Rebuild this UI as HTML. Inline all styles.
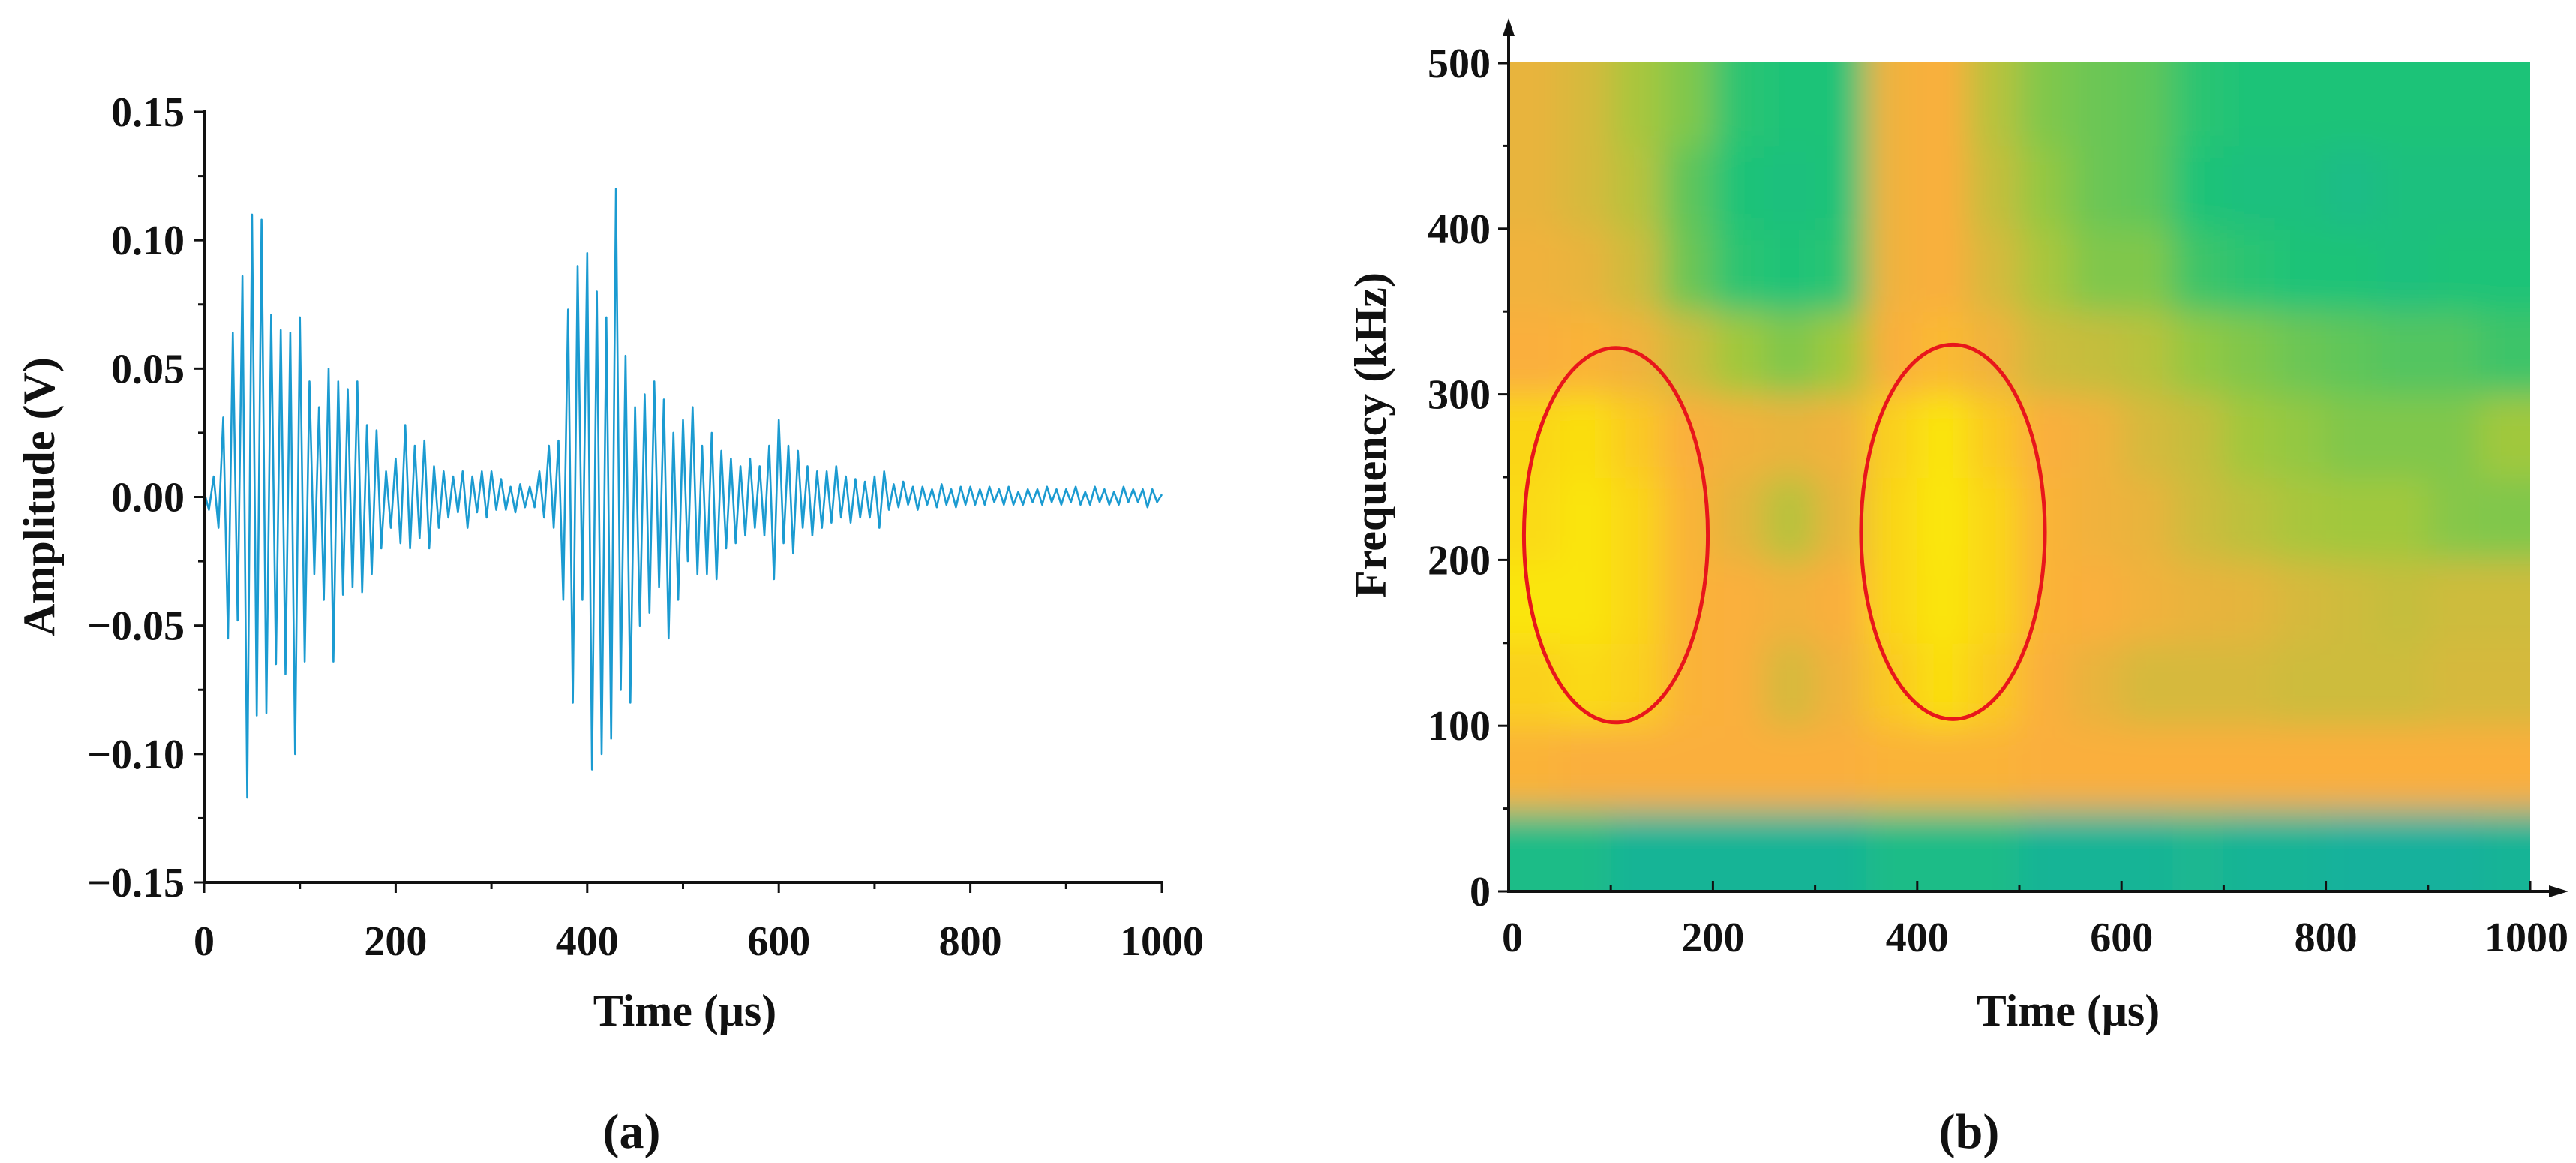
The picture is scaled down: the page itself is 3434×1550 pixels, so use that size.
<!DOCTYPE html>
<html><head><meta charset="utf-8"><style>
html,body{margin:0;padding:0;background:#fff;}
svg{display:block;}
text{font-family:"Liberation Serif",serif;font-weight:bold;fill:#111;}
</style></head><body>
<svg id="fig" width="3434" height="1550" viewBox="0 0 3434 1550" xmlns="http://www.w3.org/2000/svg">
<defs>
<filter id="blur" x="-5%" y="-5%" width="110%" height="110%"><feGaussianBlur stdDeviation="22"/></filter>
<clipPath id="hclip"><rect x="2011" y="82" width="1362" height="1106"/></clipPath>
</defs>
<g id="panelA"></g>
<g id="panelB"></g>
</svg>
<script>
// ---------- Panel (a) data ----------
const sigStep = 5; // microseconds between samples
const sigValues = [0.002,-0.005,0.008,-0.012,0.031,-0.055,0.064,-0.048,0.086,-0.117,0.11,-0.085,0.108,-0.084,0.071,-0.065,0.065,-0.069,0.064,-0.1,
0.07,-0.064,0.045,-0.03,0.035,-0.04,0.05,-0.064,0.045,-0.038,0.042,-0.035,0.045,-0.037,0.028,-0.03,0.026,-0.02,0.01,-0.012,
0.015,-0.018,0.028,-0.02,0.02,-0.016,0.022,-0.02,0.012,-0.012,0.01,-0.008,0.008,-0.006,0.01,-0.012,0.008,-0.006,0.01,-0.008,
0.01,-0.005,0.007,-0.005,0.004,-0.006,0.005,-0.004,0.004,-0.004,0.01,-0.008,0.02,-0.012,0.022,-0.04,0.073,-0.08,0.09,-0.04,
0.095,-0.106,0.08,-0.1,0.07,-0.094,0.12,-0.075,0.055,-0.08,0.035,-0.05,0.04,-0.045,0.045,-0.035,0.038,-0.055,0.025,-0.04,
0.03,-0.025,0.035,-0.03,0.02,-0.03,0.025,-0.032,0.018,-0.02,0.015,-0.018,0.012,-0.015,0.015,-0.012,0.012,-0.015,0.02,-0.032,
0.03,-0.018,0.02,-0.022,0.018,-0.012,0.012,-0.015,0.01,-0.012,0.01,-0.01,0.012,-0.008,0.008,-0.01,0.007,-0.008,0.006,-0.008,
0.008,-0.012,0.01,-0.005,0.005,-0.004,0.006,-0.003,0.004,-0.005,0.004,-0.003,0.003,-0.004,0.005,-0.003,0.003,-0.004,0.004,-0.003,
0.004,-0.003,0.003,-0.003,0.004,-0.002,0.003,-0.003,0.004,-0.003,0.002,-0.003,0.003,-0.002,0.003,-0.003,0.004,-0.002,0.003,-0.003,
0.003,-0.002,0.004,-0.003,0.002,-0.003,0.004,-0.002,0.003,-0.003,0.002,-0.003,0.004,-0.002,0.003,-0.002,0.003,-0.004,0.003,-0.002,0.001];
const aXTicks = [0,200,400,600,800,1000];
const aYTicks = [0.15,0.10,0.05,0.00,-0.05,-0.10,-0.15];
const aYLabels = ["0.15","0.10","0.05","0.00","\u22120.05","\u22120.10","\u22120.15"];

// ---------- Panel (b) data ----------
// rows: frequency bands 0-50,50-100,...,450-500 kHz ; columns: time 0-50,...,950-1000 us ; intensity 0..1
const freqBands = [25,75,125,175,225,275,325,375,425,475];
const timeBins = [25,75,125,175,225,275,325,375,425,475,525,575,625,675,725,775,825,875,925,975];
const intensity = [
[0.25,0.25,0.2,0.2,0.2,0.2,0.2,0.25,0.25,0.25,0.2,0.2,0.2,0.22,0.2,0.2,0.18,0.18,0.18,0.2],
[0.72,0.7,0.7,0.7,0.7,0.7,0.7,0.72,0.72,0.72,0.7,0.7,0.7,0.7,0.7,0.7,0.7,0.7,0.7,0.7],
[0.85,0.9,0.85,0.72,0.7,0.62,0.68,0.82,0.92,0.82,0.7,0.66,0.62,0.62,0.62,0.6,0.6,0.6,0.62,0.62],
[0.95,0.95,0.88,0.72,0.7,0.68,0.7,0.88,0.95,0.88,0.72,0.7,0.68,0.66,0.65,0.62,0.6,0.58,0.6,0.6],
[0.9,0.95,0.88,0.72,0.65,0.55,0.66,0.88,0.96,0.88,0.72,0.68,0.66,0.6,0.56,0.52,0.5,0.5,0.46,0.45],
[0.88,0.92,0.82,0.7,0.68,0.66,0.68,0.85,0.95,0.82,0.7,0.68,0.62,0.58,0.5,0.48,0.45,0.45,0.45,0.5],
[0.7,0.72,0.68,0.6,0.5,0.45,0.5,0.7,0.75,0.68,0.6,0.58,0.55,0.48,0.45,0.42,0.4,0.38,0.38,0.35],
[0.68,0.66,0.6,0.42,0.32,0.3,0.32,0.68,0.7,0.62,0.52,0.45,0.45,0.35,0.32,0.3,0.3,0.28,0.3,0.3],
[0.66,0.62,0.55,0.4,0.3,0.28,0.3,0.68,0.7,0.58,0.48,0.42,0.4,0.3,0.28,0.28,0.25,0.28,0.28,0.28],
[0.66,0.62,0.52,0.45,0.32,0.3,0.3,0.68,0.7,0.55,0.45,0.42,0.4,0.32,0.3,0.3,0.3,0.3,0.3,0.3]];
const bXTicks = [0,200,400,600,800,1000];
const bYTicks = [0,100,200,300,400,500];
const ellipseCenters = [[105,215],[435,217]]; // [time us, freq kHz]
const ellipseRadii = [[90,113],[90,113]];     // [time us, freq kHz]

const NS="http://www.w3.org/2000/svg";
function mk(tag, attrs, parent){const e=document.createElementNS(NS,tag);for(const k in attrs)e.setAttribute(k,attrs[k]);parent.appendChild(e);return e;}

// ---------- Panel (a) ----------
const A=document.getElementById('panelA');
const ax0=272, ax1=1549, ayTop=149, ayBot=1176;
const axX=t=>ax0+(t/1000)*(ax1-ax0);
const axY=v=>ayTop+(0.15-v)/0.30*(ayBot-ayTop);
let d="";
sigValues.forEach((v,i)=>{d+=(i?"L":"M")+axX(i*sigStep).toFixed(1)+","+axY(v).toFixed(1);});
const line=mk('path',{d:d,fill:"none",stroke:"#1b9bd1","stroke-width":"2.6","stroke-linejoin":"round"},A);


const ayAxis=mk('line',{x1:ax0,y1:ayTop-2,x2:ax0,y2:ayBot+2,stroke:"#111","stroke-width":"4"},A);


const axAxis=mk('line',{x1:ax0-2,y1:ayBot,x2:ax1+2,y2:ayBot,stroke:"#111","stroke-width":"4"},A);


aYTicks.forEach((v,i)=>{
  const y=axY(v);
  mk('line',{x1:ax0-14,y1:y,x2:ax0,y2:y,stroke:"#111","stroke-width":"3"},A);
  if(i<aYTicks.length-1){const ym=(y+axY(aYTicks[i+1]))/2;mk('line',{x1:ax0-8,y1:ym,x2:ax0,y2:ym,stroke:"#111","stroke-width":"3"},A);}
  const t=mk('text',{x:ax0-26,y:y+19,"text-anchor":"end","font-size":"56"},A);
  t.textContent=aYLabels[i];
  
  
});
aXTicks.forEach((v,i)=>{
  const x=axX(v);
  mk('line',{x1:x,y1:ayBot,x2:x,y2:ayBot+14,stroke:"#111","stroke-width":"3"},A);
  if(i<aXTicks.length-1){const xm=axX(v+100);mk('line',{x1:xm,y1:ayBot,x2:xm,y2:ayBot+9,stroke:"#111","stroke-width":"3"},A);}
  const t=mk('text',{x:x,y:1273,"text-anchor":"middle","font-size":"56"},A);
  t.textContent=String(v);
  
  
});
</script>
<script>
// static labels panel a
(function(){
const A=document.getElementById('panelA');
const t1=document.createElementNS(NS,'text');
t1.setAttribute('x','913');t1.setAttribute('y','1367');t1.setAttribute('text-anchor','middle');t1.setAttribute('font-size','60');
t1.textContent='Time (\u03bcs)';


A.appendChild(t1);
const t2=document.createElementNS(NS,'text');
t2.setAttribute('transform','translate(72,662) rotate(-90)');t2.setAttribute('text-anchor','middle');t2.setAttribute('font-size','60');
t2.textContent='Amplitude (V)';


A.appendChild(t2);
const t3=document.createElementNS(NS,'text');
t3.setAttribute('x','842');t3.setAttribute('y','1530');t3.setAttribute('text-anchor','middle');t3.setAttribute('font-size','66');t3.setAttribute('font-weight','normal');
t3.textContent='(a)';


A.appendChild(t3);
})();

// ---------- Panel (b) ----------
const B=document.getElementById('panelB');
const bx0=2011, bx1=3373, byTop=84, byBot=1188;
const bX=t=>bx0+(t/1000)*(bx1-bx0);
const bY=f=>byBot-(f/500)*(byBot-byTop);
const stops=[[0,[16,150,210]],[0.3,[30,195,120]],[0.5,[160,200,60]],[0.7,[250,175,60]],[1,[250,240,0]]];
function cmap(v){
  for(let i=1;i<stops.length;i++){if(v<=stops[i][0]){const a=stops[i-1],b=stops[i];const f=(v-a[0])/(b[0]-a[0]);
    return `rgb(${a[1].map((c,k)=>Math.round(c+(b[1][k]-c)*f)).join(',')})`;}}
  return 'rgb(250,240,0)';
}
const hg=mk('g',{"clip-path":"url(#hclip)"},B);


mk('rect',{x:bx0,y:byTop,width:bx1-bx0,height:byBot-byTop,fill:cmap(0.6)},hg);
const inner=mk('g',{filter:"url(#blur)"},hg);
const cw=bX(50)-bX(0), ch=bY(0)-bY(50);
intensity.forEach((row,r)=>{row.forEach((v,c)=>{
  const cell=mk('rect',{x:bX(timeBins[c]-25)-(c==0?60:0),y:bY(freqBands[r]+25)-(r==intensity.length-1?60:0),width:cw+1+(c==0||c==row.length-1?60:0),height:ch+1+(r==0||r==intensity.length-1?60:0),fill:cmap(v)},inner);
  
  
});});
ellipseCenters.forEach((c,i)=>{
  const cx=bX(c[0]), cy=bY(c[1]);
  const e=mk('ellipse',{cx:cx,cy:cy,rx:bX(ellipseRadii[i][0])-bX(0),ry:bY(0)-bY(ellipseRadii[i][1]),fill:"none",stroke:"#e8161b","stroke-width":"5"},B);
  
  
});
const byAxis=mk('line',{x1:bx0,y1:byBot+2,x2:bx0,y2:40,stroke:"#111","stroke-width":"4"},B);


mk('path',{d:`M${bx0-8},48 L${bx0},24 L${bx0+8},48 Z`,fill:"#111"},B);
const bxAxis=mk('line',{x1:bx0-2,y1:byBot,x2:3405,y2:byBot,stroke:"#111","stroke-width":"4"},B);


mk('path',{d:`M3398,${byBot-8} L3424,${byBot} L3398,${byBot+8} Z`,fill:"#111"},B);
bYTicks.forEach((v,i)=>{
  const y=bY(v);
  mk('line',{x1:bx0-14,y1:y,x2:bx0,y2:y,stroke:"#111","stroke-width":"3"},B);
  if(i<bYTicks.length-1){const ym=bY(v+50);mk('line',{x1:bx0-8,y1:ym,x2:bx0,y2:ym,stroke:"#111","stroke-width":"3"},B);}
  const t=mk('text',{x:bx0-24,y:y+19,"text-anchor":"end","font-size":"56"},B);
  t.textContent=String(v);
  
  
});
bXTicks.forEach((v,i)=>{
  const x=bX(v);
  mk('line',{x1:x,y1:byBot-14,x2:x,y2:byBot,stroke:"#111","stroke-width":"3"},B);
  if(i<bXTicks.length-1){const xm=bX(v+100);mk('line',{x1:xm,y1:byBot-9,x2:xm,y2:byBot,stroke:"#111","stroke-width":"3"},B);}
  const t=mk('text',{x:x+(v==1000?-5:v==0?5:0),y:1268,"text-anchor":"middle","font-size":"56"},B);
  t.textContent=String(v);
  
  
});
const bt1=mk('text',{x:2757,y:1367,"text-anchor":"middle","font-size":"60"},B);
bt1.textContent='Time (\u03bcs)';


const bt2=mk('text',{transform:"translate(1847,580) rotate(-90)","text-anchor":"middle","font-size":"60"},B);
bt2.textContent='Frequency (kHz)';


const bt3=mk('text',{x:2625,y:1530,"text-anchor":"middle","font-size":"66","font-weight":"normal"},B);
bt3.textContent='(b)';


</script>
</body></html>
